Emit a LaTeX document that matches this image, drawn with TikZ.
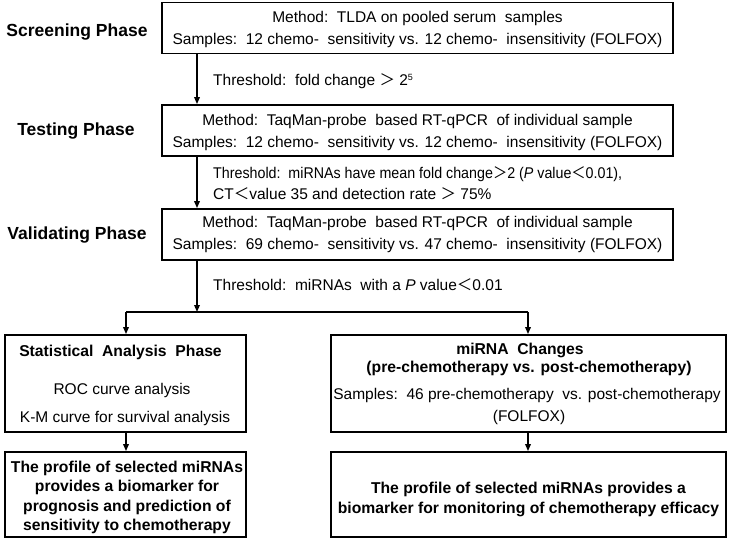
\documentclass[tikz,border=0pt]{standalone}
\usepackage{fontspec}
\usepackage{graphicx}
\setmainfont{Liberation Sans}
\newfontfamily\cjk{Noto Sans CJK SC}
\usetikzlibrary{arrows.meta}
\newcommand{\gtx}{{\cjk ＞}}
\newcommand{\ltx}{{\cjk ＜}}
\begin{document}
\begin{tikzpicture}[x=1pt,y=-1pt,
  box/.style={draw, line width=1.8pt, inner sep=0pt, rectangle},
  topbox/.style={box, minimum width=511pt, minimum height=51pt},
  leftbox/.style={box, minimum width=241pt},
  rightbox/.style={box, minimum width=395pt},
  txt/.style={inner sep=0pt, font=\fontsize{15.5}{18}\selectfont},
  btxt/.style={inner sep=0pt, font=\fontsize{15.7}{19}\selectfont\bfseries},
  phase/.style={inner sep=0pt, font=\fontsize{17.5}{20}\selectfont\bfseries},
  thr/.style={inner sep=0pt, anchor=west, font=\fontsize{15.5}{18}\selectfont},
  conn/.style={line width=1.6pt},
  arr/.style={conn, -{Triangle[length=7pt,width=5.5pt]}}
]
\useasboundingbox (0,0) rectangle (733,542);

% phase labels
\node[phase] (p1) at (77,32) {Screening Phase};
\node[phase] (p2) at (76,131) {Testing Phase};
\node[phase] (p3) at (77,235) {Validating Phase};

% top boxes
\node[topbox] (b1) at (417.5,28) {};
\node[txt] (b1a) at (417.5,18) {Method:\ \ TLDA on pooled serum\ \ samples};
\node[txt] (b1b) at (417.5,40) {Samples:\ \ 12 chemo-\ \ sensitivity vs. 12 chemo-\ \ insensitivity (FOLFOX)};

\node[topbox] (b2) at (417.5,130.5) {};
\node[txt] (b2a) at (417.5,121) {Method:\ \ TaqMan-probe\ \ based RT-qPCR\ \ of individual sample};
\node[txt] (b2b) at (417.5,143) {Samples:\ \ 12 chemo-\ \ sensitivity vs. 12 chemo-\ \ insensitivity (FOLFOX)};

\node[topbox] (b3) at (417.5,234.5) {};
\node[txt] (b3a) at (417.5,223) {Method:\ \ TaqMan-probe\ \ based RT-qPCR\ \ of individual sample};
\node[txt] (b3b) at (417.5,245) {Samples:\ \ 69 chemo-\ \ sensitivity vs. 47 chemo-\ \ insensitivity (FOLFOX)};

% thresholds
\node[thr] (t1) at (213,81) {Threshold:\ \ fold change \gtx{} 2\textsuperscript{\fontsize{9}{10}\selectfont 5}};
\node[thr] (t2a) at (213,174) {\scalebox{0.92}[1]{Threshold:\ \ miRNAs have mean fold change\gtx{}2 (\textit{P} value\ltx{}0.01),}};
\node[thr] (t2b) at (213,194) {CT\ltx{}value 35 and detection rate \gtx{} 75\%};
\node[thr] (t3) at (213,285) {Threshold:\ \ miRNAs\ \ with a \textit{P} value\ltx{}0.01};

% second row boxes
\node[leftbox, minimum height=97pt] (l1) at (125.5,383.5) {};
\node[btxt] (l1a) at (120.5,352) {Statistical\ \ Analysis\ \ Phase};
\node[txt] (l1b) at (122,390) {ROC curve analysis};
\node[txt] (l1c) at (125,418) {K-M curve for survival analysis};

\node[rightbox, minimum height=97pt] (r1) at (528.5,383.5) {};
\node[btxt] (r1a) at (520,350) {miRNA\ \ Changes};
\node[btxt] (r1b) at (529,368) {(pre-chemotherapy vs. post-chemotherapy)};
\node[txt] (r1c) at (527,395) {Samples:\ \ 46 pre-chemotherapy\ \ vs. post-chemotherapy};
\node[txt] (r1d) at (529,417) {(FOLFOX)};

% bottom boxes
\node[leftbox, minimum height=85pt] (l2) at (125.5,494.5) {};
\node[btxt] (l2a) at (127,468) {The profile of selected miRNAs};
\node[btxt] (l2b) at (127,487) {provides a biomarker for};
\node[btxt] (l2c) at (127,507) {prognosis and prediction of};
\node[btxt] (l2d) at (127,526) {sensitivity to chemotherapy};

\node[rightbox, minimum height=85pt] (r2) at (528.5,494.5) {};
\node[btxt] (r2a) at (528.5,489) {The profile of selected miRNAs provides a};
\node[btxt] (r2b) at (528.5,509) {biomarker for monitoring of chemotherapy efficacy};

% connectors
\coordinate (ax) at (197,0);
\coordinate (j) at (197,312);
\coordinate (jl) at (126,312);
\coordinate (jr) at (528,312);
\draw[arr] (b1.south -| ax) -- (b2.north -| ax);
\draw[arr] (b2.south -| ax) -- (b3.north -| ax);
\draw[arr] (b3.south -| ax) -- (j);
\draw[conn] (jl) -- (jr);
\draw[arr] (jl) -- (l1.north -| jl);
\draw[arr] (jr) -- (r1.north -| jr);
\draw[arr] (l1.south -| jl) -- (l2.north -| jl);
\draw[arr] (r1.south -| jr) -- (r2.north -| jr);
\end{tikzpicture}
\end{document}
